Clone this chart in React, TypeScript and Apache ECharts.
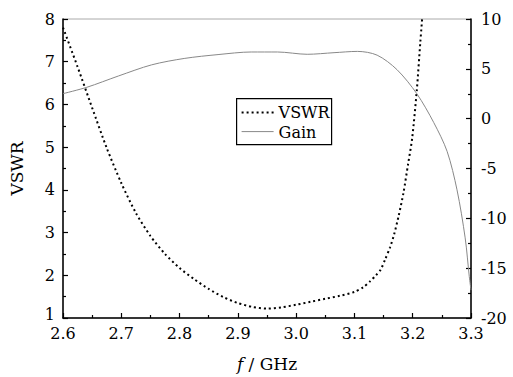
import React, { useEffect, useRef } from "react";
import * as echarts from "echarts";

const vswrFreq = [2.6, 2.625, 2.65, 2.675, 2.7, 2.725, 2.75, 2.775, 2.8, 2.825, 2.85, 2.875, 2.9, 2.925, 2.95, 2.975, 3.0, 3.025, 3.05, 3.075, 3.1, 3.115, 3.127, 3.137, 3.145, 3.153, 3.161, 3.168, 3.176, 3.184, 3.192, 3.199, 3.207, 3.213, 3.219];
const vswrVals = [7.8, 6.88, 5.92, 4.98, 4.16, 3.46, 2.92, 2.5, 2.17, 1.91, 1.68, 1.49, 1.35, 1.26, 1.22, 1.25, 1.31, 1.38, 1.45, 1.52, 1.61, 1.72, 1.86, 2.0, 2.13, 2.38, 2.65, 2.95, 3.4, 3.92, 4.6, 5.2, 6.33, 7.45, 8.5];

const gainFreq = [2.6, 2.641, 2.695, 2.752, 2.809, 2.866, 2.923, 2.968, 3.019, 3.065, 3.105, 3.139, 3.173, 3.207, 3.236, 3.259, 3.276, 3.29, 3.297, 3.3];
const gainVals = [2.51, 3.15, 4.28, 5.4, 6.05, 6.43, 6.69, 6.69, 6.46, 6.62, 6.75, 6.37, 4.92, 2.51, -0.38, -3.28, -7.14, -11.96, -15.82, -17.2];

const FONT = "DejaVu Serif";

export default function App() {
  const ref = useRef<HTMLDivElement>(null);
  useEffect(() => {
    if (!ref.current) return;
    const chart = echarts.init(ref.current, null, { renderer: "svg" });
    const axisLine = { show: true, onZero: false, lineStyle: { color: "#000", width: 1.5 } };
    const tick = { show: true, inside: true, length: 5, lineStyle: { color: "#000", width: 1.2 } };
    const minor = { show: true, splitNumber: 2, length: 3, lineStyle: { color: "#000", width: 1.2 } };
    chart.setOption({
      animation: false,
      backgroundColor: "#fff",
      textStyle: { fontFamily: FONT },
      grid: { left: 61, right: 42, top: 19, bottom: 47, show: true, borderColor: "#aaa", borderWidth: 1 },
      xAxis: {
        type: "value",
        min: 2.6,
        max: 3.3,
        interval: 0.1,
        name: "{i|f} / GHz",
        nameLocation: "middle",
        nameGap: 37,
        nameTextStyle: {
          fontFamily: FONT,
          fontSize: 17,
          color: "#000",
          rich: { i: { fontStyle: "italic", fontFamily: FONT, fontSize: 17, color: "#000" } },
        },
        axisLine,
        axisTick: tick,
        minorTick: minor,
        axisLabel: {
          color: "#000",
          fontSize: 16,
          fontFamily: FONT,
          margin: 7,
          formatter: (v: number) => v.toFixed(1),
        },
        splitLine: { show: false },
      },
      yAxis: [
        {
          type: "value",
          min: 1,
          max: 8,
          interval: 1,
          name: "VSWR",
          nameLocation: "middle",
          nameGap: 38,
          nameTextStyle: { fontFamily: FONT, fontSize: 17, color: "#000" },
          axisLine,
          axisTick: tick,
          minorTick: minor,
          axisLabel: {
            color: "#000",
            fontSize: 16,
            fontFamily: FONT,
            margin: 8,
            formatter: (v: number) => (v === 1 ? "{b|1}" : String(v)),
            rich: { b: { fontSize: 16, fontFamily: FONT, color: "#000", padding: [0, 0, 8, 0] } },
          },
          splitLine: { show: false },
        },
        {
          type: "value",
          min: -20,
          max: 10,
          interval: 5,
          position: "right",
          axisLine,
          axisTick: tick,
          minorTick: minor,
          axisLabel: { color: "#000", fontSize: 16, fontFamily: FONT, margin: 10 },
          splitLine: { show: false },
        },
      ],
      graphic: [
        {
          type: "group",
          left: 236,
          top: 98,
          z: 100,
          children: [
            { type: "rect", shape: { x: 0, y: 0, width: 95, height: 46 }, style: { fill: "#fff", stroke: "#000", lineWidth: 1.2 } },
            { type: "line", shape: { x1: 5, y1: 14, x2: 37, y2: 14 }, style: { stroke: "#000", lineWidth: 2, lineDash: [2, 3] } },
            { type: "line", shape: { x1: 5, y1: 33, x2: 37, y2: 33 }, style: { stroke: "#888", lineWidth: 1 } },
            { type: "text", x: 42, y: 14, style: { text: "VSWR", fontFamily: FONT, fontSize: 16, fill: "#000", verticalAlign: "middle" } },
            { type: "text", x: 42, y: 34, style: { text: "Gain", fontFamily: FONT, fontSize: 16, fill: "#000", verticalAlign: "middle" } },
          ],
        },
      ],
      series: [
        {
          name: "VSWR",
          type: "line",
          yAxisIndex: 0,
          smooth: 0.25,
          showSymbol: false,
          clip: true,
          data: vswrFreq.map((f, i) => [f, vswrVals[i]]),
          lineStyle: { color: "#000", width: 2, type: [2, 3] },
          itemStyle: { color: "#000" },
        },
        {
          name: "Gain",
          type: "line",
          yAxisIndex: 1,
          smooth: 0.3,
          showSymbol: false,
          clip: true,
          data: gainFreq.map((f, i) => [f, gainVals[i]]),
          lineStyle: { color: "#888", width: 1 },
          itemStyle: { color: "#888" },
        },
      ],
    });
    return () => chart.dispose();
  }, []);
  return <div ref={ref} style={{ width: 513, height: 377, position: "absolute", left: 0, top: 0 }} />;
}
